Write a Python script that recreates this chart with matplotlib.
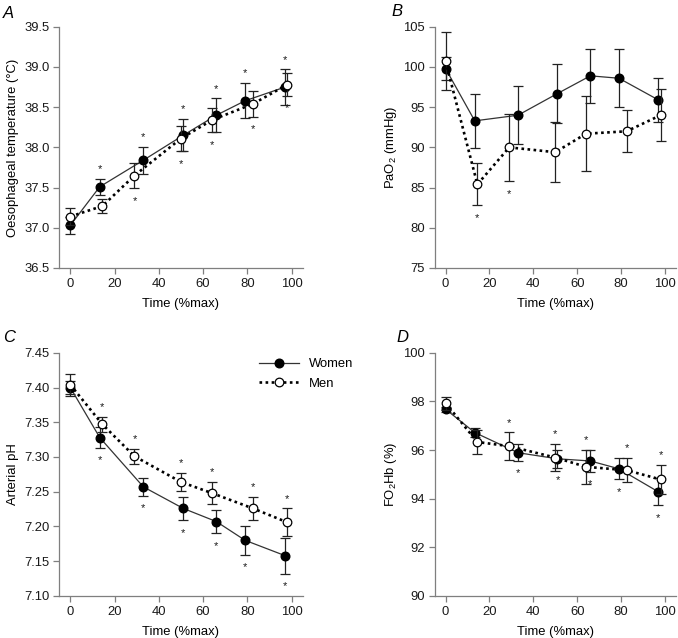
import matplotlib
matplotlib.use("Agg")
import matplotlib.pyplot as plt
import numpy as np

plt.rcParams['font.family'] = ['Liberation Sans', 'DejaVu Sans']
plt.rcParams['mathtext.fontset'] = 'custom'
plt.rcParams['mathtext.rm'] = 'Liberation Sans'
plt.rcParams['mathtext.it'] = 'Liberation Sans:italic'
FS = 9.4
plt.rcParams['font.size'] = FS

# ---- time points (% of max) ----
x_women = [0, 13.3, 33, 51, 66, 79, 97]
x_men = [0, 14.5, 29, 50, 64, 82.5, 98]

# ---- A: oesophageal temperature ----
a_women = [37.03, 37.51, 37.84, 38.15, 38.40, 38.58, 38.75]
a_women_err = [0.11, 0.10, 0.17, 0.20, 0.21, 0.22, 0.22]
a_men = [37.14, 37.27, 37.65, 38.11, 38.34, 38.54, 38.78]
a_men_err = [0.10, 0.09, 0.16, 0.16, 0.15, 0.16, 0.14]
a_women_sig = [0, 1, 1, 1, 1, 1, 1]
a_men_sig = [0, 0, 1, 1, 1, 1, 1]

# ---- B: PaO2 ----
b_women = [99.8, 93.3, 94.0, 96.7, 98.9, 98.6, 95.9]
b_women_err = [1.4, 3.4, 3.6, 3.7, 3.4, 3.6, 2.7]
b_men = [100.7, 85.4, 90.0, 89.4, 91.7, 92.0, 94.0]
b_men_err = [3.6, 2.6, 4.2, 3.7, 4.7, 2.6, 3.2]
b_women_sig = [0, 0, 0, 0, 0, 0, 0]
b_men_sig = [0, 1, 1, 0, 0, 0, 0]

# ---- C: arterial pH ----
c_women = [7.400, 7.328, 7.257, 7.226, 7.207, 7.180, 7.158]
c_women_err = [0.010, 0.015, 0.013, 0.017, 0.017, 0.021, 0.026]
c_men = [7.404, 7.347, 7.301, 7.264, 7.248, 7.226, 7.206]
c_men_err = [0.016, 0.011, 0.011, 0.013, 0.016, 0.017, 0.020]
c_women_sig = [0, 1, 1, 1, 1, 1, 1]
c_men_sig = [0, 1, 1, 1, 1, 1, 1]

# ---- D: FO2Hb ----
d_women = [97.68, 96.72, 95.89, 95.64, 95.55, 95.23, 94.28]
d_women_err = [0.10, 0.17, 0.34, 0.36, 0.45, 0.43, 0.55]
d_men = [97.93, 96.33, 96.16, 95.69, 95.31, 95.17, 94.79]
d_men_err = [0.27, 0.48, 0.57, 0.55, 0.69, 0.50, 0.60]
d_women_sig = [0, 0, 1, 1, 1, 1, 1]
d_men_sig = [0, 0, 1, 1, 1, 1, 1]

xticks = [0, 20, 40, 60, 80, 100]

fig = plt.figure(figsize=(6.78, 6.38), dpi=100)

spine_col = '#7f7f7f'
line_col = '#333333'


def make_ax(rect):
    ax = fig.add_axes(rect)
    for s in ['top', 'right']:
        ax.spines[s].set_visible(False)
    for s in ['left', 'bottom']:
        ax.spines[s].set_color(spine_col)
        ax.spines[s].set_linewidth(0.9)
    ax.tick_params(direction='out', length=4, width=0.9, color=spine_col,
                   labelsize=FS, labelcolor='#1a1a1a', pad=3)
    ax.set_xlim(-5, 105)
    ax.set_xticks(xticks)
    ax.set_xlabel('Time (%max)', fontsize=FS, labelpad=6)
    return ax


def plot_panel(ax, yw, ew, ym, em, sw, sm, w_above, m_above):
    ax.errorbar(x_women, yw, yerr=ew, color=line_col, lw=0.9, marker='o',
                ms=6.2, mfc='black', mec='black', ecolor='#222222', elinewidth=0.9,
                capsize=3.6, capthick=0.9, label='Women', zorder=3)
    ax.errorbar(x_men, ym, yerr=em, color='black', lw=1.9, ls=(0, (1, 1.3)),
                marker='o', ms=6.2, mfc='white', mec='black', mew=0.9,
                ecolor='#222222', elinewidth=0.9, capsize=3.6, capthick=0.9,
                label='Men', zorder=4)
    for xs, ys, es, ss, above in [(x_women, yw, ew, sw, w_above),
                                  (x_men, ym, em, sm, m_above)]:
        for xi, yi, ei, si in zip(xs, ys, es, ss):
            if si:
                yy = yi + ei if above else yi - ei
                off = 7 if above else -9
                ax.annotate('*', (xi, yy), xytext=(0, off), textcoords='offset points',
                            ha='center', va='center', fontsize=8, color='#1a1a1a')


# Panel A
axA = make_ax([0.0874, 0.58, 0.359, 0.378])
plot_panel(axA, a_women, a_women_err, a_men, a_men_err, a_women_sig, a_men_sig, True, False)
axA.set_ylim(36.5, 39.5)
axA.set_yticks([36.5, 37.0, 37.5, 38.0, 38.5, 39.0, 39.5])
axA.set_yticklabels(['36.5', '37.0', '37.5', '38.0', '38.5', '39.0', '39.5'])
axA.set_ylabel('Oesophageal temperature (°C)', fontsize=FS, labelpad=4)

# Panel B
axB = make_ax([0.641, 0.58, 0.356, 0.378])
plot_panel(axB, b_women, b_women_err, b_men, b_men_err, b_women_sig, b_men_sig, True, False)
axB.set_ylim(75, 105)
axB.set_yticks([75, 80, 85, 90, 95, 100, 105])
axB.set_ylabel(r'PaO$_{\mathrm{2}}$ (mmHg)', fontsize=FS, labelpad=3)

# Panel C
axC = make_ax([0.0874, 0.066, 0.359, 0.381])
plot_panel(axC, c_women, c_women_err, c_men, c_men_err, c_women_sig, c_men_sig, False, True)
axC.set_ylim(7.10, 7.45)
axC.set_yticks([7.10, 7.15, 7.20, 7.25, 7.30, 7.35, 7.40, 7.45])
axC.set_yticklabels(['7.10', '7.15', '7.20', '7.25', '7.30', '7.35', '7.40', '7.45'])
axC.set_ylabel('Arterial pH', fontsize=FS, labelpad=4)
handles, labels = axC.get_legend_handles_labels()
handles = [h[0] for h in handles]
axC.legend(handles, labels, loc='upper left', bbox_to_anchor=(0.82, 0.978),
           frameon=False, borderpad=0, borderaxespad=0, handlelength=3.1,
           handletextpad=0.75, labelspacing=0.55, numpoints=1, fontsize=FS)

# Panel D
axD = make_ax([0.641, 0.066, 0.356, 0.381])
plot_panel(axD, d_women, d_women_err, d_men, d_men_err, d_women_sig, d_men_sig, False, True)
axD.set_ylim(90, 100)
axD.set_yticks([90, 92, 94, 96, 98, 100])
axD.set_ylabel(r'FO$_{\mathrm{2}}$Hb (%)', fontsize=FS, labelpad=3)

# panel letters
for txt, (px, py) in zip(['A', 'B', 'C', 'D'],
                         [(3, 13), (391, 12), (3, 337), (396, 338)]):
    fig.text(px / 678, 1 - py / 638, txt, fontsize=12, style='italic',
             ha='left', va='center')

fig.savefig('out.png', dpi=100)
